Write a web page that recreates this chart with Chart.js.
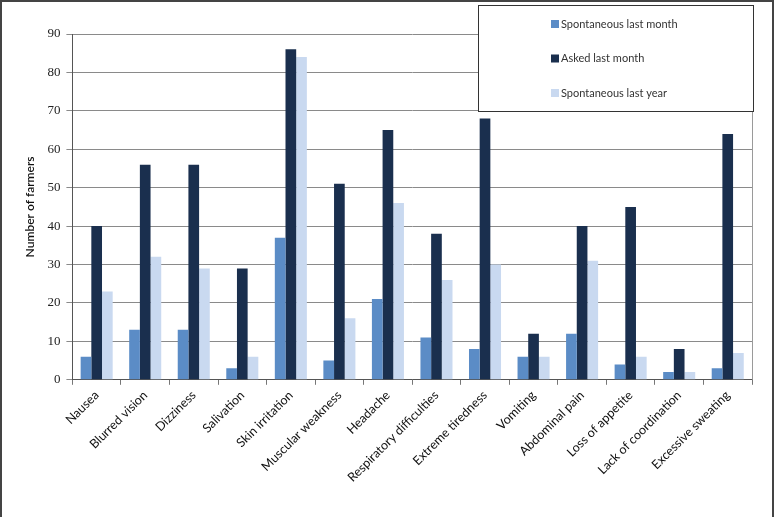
<!DOCTYPE html>
<html>
<head>
<meta charset="utf-8">
<script src="https://cdn.jsdelivr.net/npm/chart.js@4"></script>
<style>
  html, body { margin: 0; padding: 0; background: #fff; }
  #wrap { width: 774px; height: 517px; position: relative; }
</style>
</head>
<body>
<div id="wrap"><canvas id="myChart" width="774" height="517"></canvas></div>
<script>
const symptoms = [
  'Nausea', 'Blurred vision', 'Dizziness', 'Salivation', 'Skin irritation',
  'Muscular weakness', 'Headache', 'Respiratory difficulties', 'Extreme tiredness',
  'Vomiting', 'Abdominal pain', 'Loss of appetite', 'Lack of coordination', 'Excessive sweating'
];
const spontaneousMonth = [6, 13, 13, 3, 37, 5, 21, 11, 8, 6, 12, 4, 2, 3];
const askedMonth = [40, 56, 56, 29, 86, 51, 65, 38, 68, 12, 40, 45, 8, 64];
const spontaneousYear = [23, 32, 29, 6, 84, 16, 46, 26, 30, 6, 31, 6, 2, 7];
const yTicks = [0, 10, 20, 30, 40, 50, 60, 70, 80, 90];

const sansFont = 'Lato, "Open Sans", sans-serif';

// frame, right plot edge and the boxed legend drawn over the top right
const extras = {
  id: 'extras',
  afterDraw(chart) {
    const ctx = chart.ctx;
    const a = chart.chartArea;
    ctx.save();
    // right edge of plot area
    ctx.strokeStyle = '#9a9a9a';
    ctx.lineWidth = 1;
    ctx.beginPath();
    ctx.moveTo(Math.round(a.right) + 0.5, a.top);
    ctx.lineTo(Math.round(a.right) + 0.5, a.bottom);
    ctx.stroke();

    // legend box
    const bx = 478.5, by = 5.5, bw = 275, bh = 106;
    ctx.fillStyle = '#fff';
    ctx.fillRect(bx, by, bw, bh);
    ctx.strokeStyle = '#333';
    ctx.strokeRect(bx, by, bw, bh);
    ctx.font = '11px ' + sansFont;
    ctx.textBaseline = 'middle';
    chart.data.datasets.forEach((ds, i) => {
      const y = 24 + i * 34.5;
      ctx.fillStyle = ds.backgroundColor;
      ctx.fillRect(551, y - 4, 8, 8);
      ctx.fillStyle = '#333';
      ctx.fillText(ds.label, 561, y);
    });

    // outer frame
    ctx.strokeStyle = '#444';
    ctx.lineWidth = 2;
    ctx.beginPath();
    ctx.moveTo(1, 517);
    ctx.lineTo(1, 1);
    ctx.lineTo(773, 1);
    ctx.lineTo(773, 517);
    ctx.stroke();
    ctx.restore();
  }
};

const config = {
  type: 'bar',
  data: {
    labels: symptoms,
    datasets: [
      { label: 'Spontaneous last month', data: spontaneousMonth, backgroundColor: '#5b8cc6' },
      { label: 'Asked last month', data: askedMonth, backgroundColor: '#1a2f4e' },
      { label: 'Spontaneous last year', data: spontaneousYear, backgroundColor: '#c9d9f0' }
    ]
  },
  options: {
    responsive: false,
    animation: false,
    layout: {
      padding: { top: 34, right: 22, bottom: 29, left: 19 }
    },
    datasets: {
      bar: { barPercentage: 1, categoryPercentage: 0.66 }
    },
    scales: {
      y: {
        min: 0,
        max: 90,
        afterBuildTicks(axis) {
          axis.ticks = yTicks.map(v => ({ value: v }));
        },
        title: {
          display: true,
          text: 'Number of farmers',
          color: '#111',
          font: { family: sansFont, size: 12, weight: '600' },
          padding: { bottom: 4 }
        },
        ticks: {
          color: '#222',
          padding: 6,
          font: { family: '"Liberation Serif", "Times New Roman", serif', size: 13 }
        },
        grid: { color: '#8a8a8a', tickLength: 6 },
        border: { color: '#555' }
      },
      x: {
        offset: true,
        grid: { offset: true, drawOnChartArea: false, color: '#777', tickLength: 5 },
        border: { color: '#555' },
        ticks: {
          color: '#111',
          minRotation: 45,
          maxRotation: 45,
          autoSkip: false,
          padding: 3,
          font: { family: sansFont, size: 12.5 }
        }
      }
    },
    plugins: {
      legend: { display: false },
      tooltip: { enabled: false }
    }
  },
  plugins: [extras]
};

var myChart = new Chart(
  document.getElementById('myChart'),
  config
);
</script>
</body>
</html>
